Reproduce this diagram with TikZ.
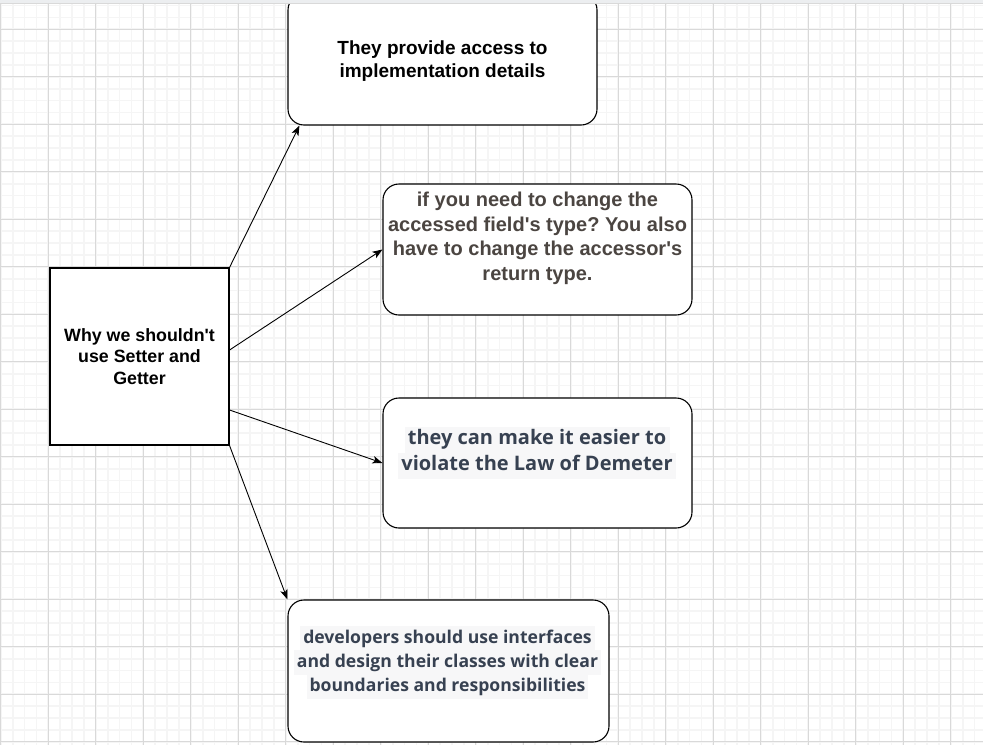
\documentclass[tikz,border=0pt]{standalone}
\usepackage{fontspec}
\setmainfont{Liberation Sans}
\newfontfamily\opensans{Open Sans}
\usepackage{xcolor}
\usetikzlibrary{arrows.meta}
\frenchspacing

\definecolor{majorgrid}{HTML}{D9D9D9}
\definecolor{minorgrid}{HTML}{F5F5F5}
\definecolor{topbar}{HTML}{ECEEF0}
\definecolor{hlgray}{HTML}{F7F7F8}
\definecolor{slate}{HTML}{374151}
\definecolor{bark}{HTML}{4B4541}

\newcommand{\hlline}[1]{{\setlength{\fboxsep}{0pt}\colorbox{hlgray}{\strut\,#1\,}}}
\newcommand{\apos}{\textquotesingle}

\begin{document}
\begin{tikzpicture}[x=1pt,y=-1pt,
  roundbox/.style={draw=black,line width=1.1pt,fill=white,rounded corners=16pt,inner sep=0pt},
  squarebox/.style={draw=black,line width=1.1pt,fill=white,inner sep=0pt},
  arialtxt/.style={align=center,text=black,font=\bfseries},
  chattxt/.style={align=center,text=slate,inner sep=0pt,font=\opensans\bfseries},
  link/.style={draw=black,line width=0.9pt,-{Stealth[length=10pt,width=7.5pt,inset=2.5pt]}}]
\useasboundingbox (0,0) rectangle (983,745);
%% grid
\fill[white] (0,0) rectangle (983,745);
\foreach \i in {0,...,83} {
  \draw[minorgrid,line width=1.8pt] ({0.8+\i*11.875},0) -- ({0.8+\i*11.875},745);
}
\foreach \j in {-3,...,60} {
  \draw[minorgrid,line width=1.8pt] (0,{29.3+\j*11.875}) -- (983,{29.3+\j*11.875});
}
\foreach \i in {0,...,20} {
  \draw[majorgrid,line width=0.9pt] ({0.8+\i*47.5},0) -- ({0.8+\i*47.5},745);
}
\foreach \j in {0,...,15} {
  \draw[majorgrid,line width=0.9pt] (0,{29.3+\j*47.5}) -- (983,{29.3+\j*47.5});
}
%% boxes
\node[squarebox,minimum width=179pt,minimum height=177pt] (why) at (139.5,356.5) {};
\node[arialtxt,font=\bfseries\fontsize{17.8}{21.5}\selectfont] (whytxt) at (why.center)
  {Why we shouldn\apos t\\use Setter and\\Getter};
\node[roundbox,minimum width=309pt,minimum height=131pt] (impl) at (442.5,59.5) {};
\node[arialtxt,font=\bfseries\fontsize{19}{23}\selectfont] (impltxt) at (442.5,61.5)
  {They provide access to\\implementation details};
\node[roundbox,minimum width=309pt,minimum height=131pt] (acc) at (537.5,249.5) {};
\node[arialtxt,text=bark,font=\bfseries\fontsize{20}{24.5}\selectfont] (acctxt) at (537.5,238.5)
  {if you need to change the\\accessed field\apos s type? You also\\have to change the accessor\apos s\\return type.};
\node[roundbox,minimum width=309pt,minimum height=130pt] (dem) at (537.5,463) {};
\node[chattxt,font=\opensans\bfseries\fontsize{20}{26}\selectfont] (demtxt) at (537,452.5)
  {\hlline{they can make it easier to}\\\hlline{violate the Law of Demeter}};
\node[roundbox,minimum width=321pt,minimum height=142pt] (dev) at (448.5,671) {};
\node[chattxt,font=\opensans\bfseries\fontsize{17.6}{24.3}\selectfont] (devtxt) at (447.5,662.5)
  {\hlline{developers should use interfaces}\\\hlline{and design their classes with clear}\\\hlline{boundaries and responsibilities}};
%% top bar
\fill[topbar] (0,0) rectangle (983,3);
\draw[majorgrid,line width=0.6pt] (0,3) -- (983,3);
%% links
\draw[link] (why.north east) -- ([xshift=12pt]impl.south west);
\draw[link] ([yshift=6.5pt]why.east) -- (acc.west);
\draw[link] ([yshift=-53.5pt]why.east) -- (dem.west);
\draw[link] (why.south east) -- (dev.north west);
\end{tikzpicture}
\end{document}
